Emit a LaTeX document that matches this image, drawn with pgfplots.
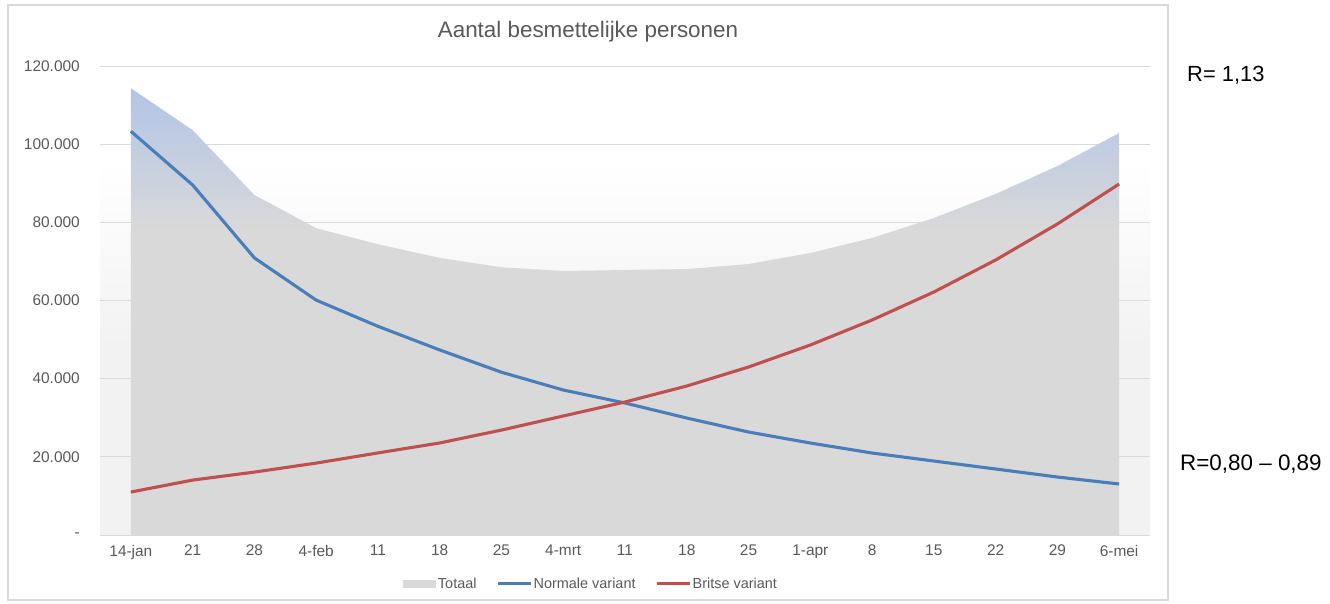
\documentclass[border=0pt]{standalone}
\usepackage{pgfplots}
\pgfplotsset{compat=1.18}
\usepackage{pgfplotstable}
\usepackage{fontspec}
\setmainfont{Liberation Sans}
\definecolor{txtgrey}{RGB}{89,89,89}
\definecolor{gridgrey}{RGB}{217,217,217}
\definecolor{areagrey}{RGB}{217,217,217}
\definecolor{areablue}{RGB}{178,197,230}
\definecolor{bandgrey}{RGB}{242,242,242}
\definecolor{lineblue}{RGB}{74,126,187}
\definecolor{linered}{RGB}{192,80,77}
\definecolor{framegrey}{RGB}{217,217,217}
\pgfdeclareverticalshading{areashade}{100bp}{color(0bp)=(areagrey); color(25bp)=(areagrey); color(59bp)=(areagrey); color(75bp)=(areablue); color(100bp)=(areablue)}
\pgfdeclareverticalshading{bandshade}{100bp}{color(0bp)=(bandgrey); color(25bp)=(bandgrey); color(45bp)=(bandgrey); color(65bp)=(white); color(100bp)=(white)}
\pgfplotsset{
  arealegend/.style={legend image code/.code={\pgfpathrectangle{\pgfpoint{0bp}{-4bp}}{\pgfpoint{33bp}{8bp}}\pgfsetfillcolor{areagrey}\pgfusepath{fill}}},
  linelegend/.style={legend image code/.code={\draw[##1] (0bp,0bp) -- (33bp,0bp);}},
}

\pgfplotstableread{
x tot norm brit
0  114300 103300 11000
1  103600 89550 14050
2  87000 70900 16100
3  78500 60100 18400
4  74400 53400 21000
5  70900 47350 23550
6  68500 41650 26850
7  67550 37100 30450
8  67800 33770 34030
9  68050 29930 38120
10 69330 26350 42980
11 72150 23540 48610
12 75990 20980 55010
13 81100 18930 62170
14 87250 16890 70360
15 94400 14840 79570
16 102860 13050 89810
}\data

\begin{document}
\begin{tikzpicture}[x=1bp,y=1bp]
\useasboundingbox (0,0) rectangle (1330,-604);
\draw[framegrey, line width=1.2bp] (8,-5) rectangle (1168,-600);
\begin{axis}[
  at={(100bp,-535bp)}, anchor=south west,
  width=1050bp, height=469bp, scale only axis,
  xmin=-0.5, xmax=16.5, ymin=0, ymax=120000,
  axis background/.style={shading=bandshade},
  axis line style={draw=none},
  tick style={draw=none},
  ymajorgrids, major grid style={gridgrey, line width=1bp},
  xtick={0,...,16},
  xticklabels={14-jan,21,28,4-feb,11,18,25,4-mrt,11,18,25,1-apr,8,15,22,29,6-mei},
  ytick={0,20000,40000,60000,80000,100000,120000},
  yticklabels={-,20.000,40.000,60.000,80.000,100.000,120.000},
  scaled y ticks=false,
  yticklabel style={txtgrey, font=\fontsize{15.5}{18}\selectfont, anchor=east, inner sep=0pt, xshift=-20bp},
  xticklabel style={txtgrey, font=\fontsize{15.5}{18}\selectfont, anchor=north, inner sep=0pt, yshift=-10bp},
  legend style={at={(0.4676,-0.104)}, anchor=center, draw=none, fill=none,
    legend columns=3, font=\fontsize{14.5}{17}\selectfont, text=txtgrey,
    /tikz/every even column/.append style={column sep=18bp},
    nodes={inner sep=1.5bp}},
  legend cell align=left,
]
\addplot[draw=none, shading=areashade, arealegend]
  table[x=x, y=tot] {\data} \closedcycle;
\addlegendentry{Totaal}
\addplot[lineblue, line width=3.1bp, no markers, linelegend]
  table[x=x, y=norm] {\data};
\addlegendentry{Normale variant}
\addplot[linered, line width=3.1bp, no markers, linelegend]
  table[x=x, y=brit] {\data};
\addlegendentry{Britse variant}
\end{axis}
\node[txtgrey, font=\fontsize{22.5}{26}\selectfont] at (588,-32) {Aantal besmettelijke personen};
\node[anchor=west, inner sep=0pt, font=\fontsize{22}{26}\selectfont] at (1187,-75) {R= 1,13};
\node[anchor=west, inner sep=0pt, font=\fontsize{22.5}{26}\selectfont] at (1180,-464) {R=0,80 – 0,89};
\end{tikzpicture}
\end{document}
